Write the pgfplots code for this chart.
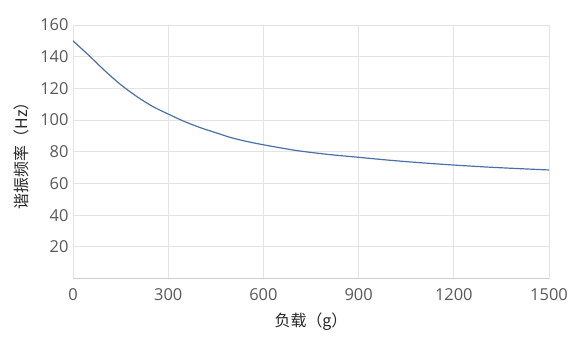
\documentclass[border=0pt]{standalone}
\usepackage{pgfplots}
\pgfplotsset{compat=1.18}
\usepackage{fontspec}
\setmainfont{Open Sans}
\newfontfamily\cjk{Noto Sans CJK SC}
\definecolor{line}{HTML}{4A70A8}
\definecolor{gridc}{HTML}{E3E3E3}
\definecolor{tickc}{HTML}{595959}
\begin{document}
\begin{tikzpicture}
\begin{axis}[
  scale only axis,
  width=476bp, height=253.5bp,
  xmin=0, xmax=1500, ymin=0, ymax=160,
  xtick={0,300,...,1500},
  ytick={20,40,...,160},
  grid=major,
  major grid style={gridc, line width=0.8pt},
  axis line style={draw=none},
  axis x line*=bottom,
  axis y line*=left,
  tick style={draw=none},
  /pgf/number format/assume math mode=true,
  /pgf/number format/1000 sep={},
  ticklabel style={font=\fontsize{16.5}{19}\selectfont, text=tickc},
  xticklabel style={yshift=-7bp},
  yticklabel style={xshift=-1bp},
  xlabel={\cjk\fontsize{16}{19}\selectfont 负载（g）},
  ylabel={\cjk\fontsize{16}{19}\selectfont 谐振频率（Hz）},
  xlabel style={yshift=-5bp, text=black!85},
  ylabel style={yshift=4bp, text=black!85},
]
\draw[gridc!80!gray, line width=1.2pt] (axis cs:0,0) -- (axis cs:1500,0);
\addplot[line, line width=1.2pt, smooth, tension=0.5] coordinates {
(0,150) (50,140.8) (100,131.2) (150,122.4) (200,115.0) (250,108.7)
(300,103.8) (350,99.2) (400,95.3) (450,92.0) (500,88.8) (550,86.4)
(600,84.4) (700,80.9) (800,78.4) (900,76.5) (1000,74.6) (1100,73.0)
(1200,71.6) (1300,70.4) (1400,69.4) (1500,68.5)
};
\end{axis}
\path (current axis.south west) ++(-73bp,-65.5bp) coordinate (bl);
\path (current axis.north east) ++(33bp,25bp) coordinate (tr);
\path (bl) rectangle (tr);
\end{tikzpicture}
\end{document}
